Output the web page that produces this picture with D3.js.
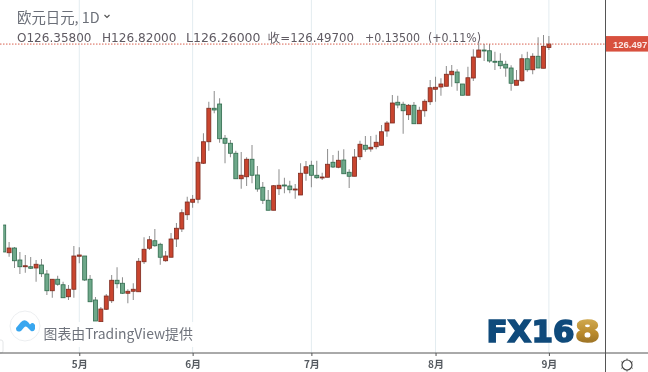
<!DOCTYPE html>
<html>
<head>
<meta charset="utf-8">
<script src="https://cdn.jsdelivr.net/npm/d3@7"></script>
<style>
  html, body { margin: 0; padding: 0; background: #fff; overflow: hidden; }
  svg { display: block; }
  text { font-family: "DejaVu Sans", sans-serif; }
  .plot { filter: blur(0.35px); }
</style>
</head>
<body>
<svg id="chart" width="648" height="372"></svg>
<script>
const open = [119.26,118.15,118.34,117.86,117.61,117.59,117.54,117.66,117.30,116.63,117.09,116.87,116.39,116.69,118.01,118.02,117.09,116.26,115.39,115.89,116.23,117.05,116.93,116.53,116.61,116.59,117.79,118.33,118.63,118.49,117.83,117.97,118.70,119.10,119.67,120.17,120.29,121.73,122.59,123.93,124.10,122.73,122.53,122.13,121.11,121.19,121.89,121.26,120.77,120.25,119.85,120.71,120.86,120.82,120.67,120.46,121.33,121.65,121.25,121.14,121.17,121.77,121.57,121.86,121.37,121.21,121.99,122.45,122.30,122.39,122.45,123.02,123.34,124.17,124.09,123.67,124.05,123.31,123.83,124.19,124.69,124.78,124.81,125.27,125.38,124.90,124.45,125.14,125.97,126.26,126.23,125.81,125.81,125.69,125.54,124.85,125.03,125.91,125.47,126.01,125.53,126.358];
const high = [119.26,118.58,118.38,118.18,118.06,117.98,117.86,117.90,117.46,117.10,117.23,116.99,116.86,118.42,118.37,118.02,117.26,116.38,115.98,116.50,117.26,117.57,117.17,116.69,116.93,117.94,118.77,118.82,119.10,118.55,118.22,118.94,119.34,119.89,120.39,120.46,121.99,122.93,124.19,124.62,124.33,122.86,122.66,122.23,122.18,121.97,122.46,121.62,120.98,120.66,120.86,121.49,121.15,121.03,120.90,121.73,121.82,121.83,121.83,121.35,122.30,122.06,122.23,122.29,121.49,122.30,122.63,122.82,122.82,122.87,123.26,123.42,124.46,124.43,124.19,124.10,124.18,123.99,124.29,125.06,125.19,125.13,125.62,125.66,125.49,124.90,125.59,126.29,126.55,126.50,126.50,126.19,126.13,125.83,125.65,125.46,126.09,126.19,126.13,126.77,126.86,126.82];
const low = [118.18,117.99,117.54,117.30,117.35,117.50,116.99,117.18,116.46,116.35,116.83,116.34,116.26,116.35,117.73,117.02,116.19,115.42,115.39,115.86,116.14,116.73,116.50,116.13,116.26,116.59,117.70,118.26,118.39,117.67,117.79,117.97,118.38,118.98,119.46,119.95,120.13,121.70,122.23,123.73,122.55,121.73,121.97,121.11,120.71,120.82,120.93,120.59,120.10,119.85,119.85,120.46,120.53,120.53,120.31,120.46,121.03,120.77,121.11,121.06,121.17,121.54,121.53,121.31,120.74,121.21,121.86,122.19,122.19,122.29,122.45,122.79,123.34,123.93,122.91,123.46,123.31,123.31,123.59,124.06,124.19,124.43,124.81,124.79,124.63,124.45,124.45,125.02,125.97,125.82,125.75,125.46,125.50,125.19,124.63,124.85,124.99,125.39,125.29,125.54,125.53,126.26];
const close = [118.18,118.34,117.83,117.59,117.63,117.53,117.69,117.31,116.63,117.09,116.89,116.35,116.69,118.02,118.06,117.06,116.19,115.42,115.90,116.42,117.05,116.91,116.53,116.61,116.69,117.81,118.29,118.67,118.43,117.97,118.02,118.70,119.13,119.75,120.18,120.29,121.77,122.59,123.93,123.86,122.71,122.53,122.13,121.11,121.25,121.89,121.25,120.70,120.25,119.85,120.83,120.85,120.82,120.67,120.70,121.33,121.59,121.25,121.15,121.18,121.69,121.58,121.85,121.31,121.21,121.98,122.49,122.29,122.37,122.57,122.99,123.34,124.14,124.06,123.83,124.05,123.31,123.85,124.21,124.75,124.77,124.90,125.29,125.41,124.95,124.45,125.15,125.98,126.26,126.22,125.82,125.79,125.63,125.54,124.93,125.05,125.91,125.47,126.01,125.54,126.41,126.497];
const monthIndex = [14, 35, 57, 80, 101];
const monthLabels = ['5月', '6月', '7月', '8月', '9月'];
const lastPrice = 126.497;
const ohlcText = ['O126.35800', 'H126.82000', 'L126.26000', '收=126.49700', '+0.13500', '(+0.11%)'];

const svg = d3.select('#chart');
const x = d3.scaleLinear().domain([0, open.length - 1]).range([3.7, 548.9]);
const y = d3.scaleLinear().domain([128.26, 115.26]).range([0, 325]);
const upColor = '#c9452f', upBorder = '#7d2a1e';
const downColor = '#6ea88a', downBorder = '#2f6a4c';

const defs = svg.append('defs');
// the first candle is cut by the left side of the pane
defs.append('clipPath').attr('id', 'pane')
    .append('rect').attr('x', 3.2).attr('y', 0).attr('width', 602).attr('height', 353);

const plot = svg.append('g').attr('class', 'plot');

// month gridlines
plot.selectAll('.grid')
    .data(monthIndex)
    .enter()
    .append('line')
    .attr('class', 'grid')
    .attr('x1', d => x(d)).attr('x2', d => x(d))
    .attr('y1', 0).attr('y2', 353)
    .attr('stroke', '#e3ecf0')
    .attr('stroke-width', 1);

// wicks then bodies
const candles = plot.append('g')
    .attr('clip-path', 'url(#pane)')
    .selectAll('.candle')
    .data(d3.range(open.length))
    .enter()
    .append('g')
    .attr('class', 'candle');

candles.append('line')
    .attr('x1', i => x(i)).attr('x2', i => x(i))
    .attr('y1', i => y(high[i])).attr('y2', i => y(low[i]))
    .attr('stroke', '#8c8c8c')
    .attr('stroke-width', 1);

candles.append('rect')
    .attr('x', i => x(i) - 2)
    .attr('width', 4)
    .attr('y', i => y(Math.max(open[i], close[i])))
    .attr('height', i => Math.max(1, Math.abs(y(open[i]) - y(close[i]))))
    .attr('fill', i => close[i] >= open[i] ? upColor : downColor)
    .attr('stroke', i => close[i] >= open[i] ? upBorder : downBorder)
    .attr('stroke-width', 0.8);

// last price line
plot.append('line')
    .attr('x1', 0).attr('x2', 605)
    .attr('y1', y(lastPrice)).attr('y2', y(lastPrice))
    .attr('stroke', '#d9604f')
    .attr('stroke-width', 1)
    .attr('stroke-dasharray', '1.5 1.5');

// TradingView badge, covers the candles under it
const badge = svg.append('g');
badge.append('rect')
    .attr('x', 44).attr('y', 322).attr('width', 152).attr('height', 25)
    .attr('fill', '#fff').attr('opacity', 0.9);
badge.append('circle')
    .attr('cx', 25).attr('cy', 326).attr('r', 15)
    .attr('fill', '#fff').attr('stroke', '#eceef0');
badge.append('path')
    .attr('d', 'M16 328 L21 322 Q24.5 318.5 28 322 L30 324.5 Q33 321.5 35 325 L35 329 Q34 332 31 331 L27 327 Q25.5 326 24 327.5 L21 331 Q16 333 16 328 Z')
    .attr('fill', '#38a6ef');
badge.append('text')
    .attr('x', 43.5).attr('y', 339)
    .attr('font-size', 13.9)
    .attr('fill', '#6f737c')
    .style('font-family', '"Noto Sans CJK SC", sans-serif')
    .text('图表由TradingView提供');

// small box on the left edge
svg.append('rect')
    .attr('x', -4).attr('y', 340).attr('width', 7).attr('height', 13).attr('rx', 2)
    .attr('fill', '#fff').attr('stroke', '#e4e6e8');

// axes
const xAxis = d3.axisBottom(x)
    .tickValues(monthIndex)
    .tickFormat((d, i) => monthLabels[i])
    .tickSize(3);
const axisG = svg.append('g')
    .attr('transform', 'translate(0,353)')
    .call(xAxis);
axisG.select('.domain').remove();
axisG.selectAll('line').attr('stroke', '#555');
axisG.selectAll('text')
    .attr('y', 8)
    .attr('font-size', 10)
    .attr('font-weight', 'bold')
    .attr('fill', '#555a60')
    .style('font-family', '"Noto Sans CJK SC", sans-serif');

svg.append('line')
    .attr('x1', 0).attr('x2', 648).attr('y1', 353).attr('y2', 353)
    .attr('stroke', '#555').attr('stroke-width', 1);
svg.append('line')
    .attr('x1', 605.5).attr('x2', 605.5).attr('y1', 0).attr('y2', 372)
    .attr('stroke', '#555').attr('stroke-width', 1);

// price label
svg.append('rect')
    .attr('x', 606).attr('y', y(lastPrice) - 8).attr('width', 42).attr('height', 15.5)
    .attr('fill', '#d8503e');
svg.append('text')
    .attr('x', 613).attr('y', y(lastPrice) + 3.5)
    .attr('font-size', 9.5)
    .attr('font-weight', 'bold')
    .attr('fill', '#fbe9e6')
    .style('font-family', '"Liberation Sans", sans-serif')
    .text(lastPrice.toFixed(3));

// header text
svg.append('text')
    .attr('x', 17).attr('y', 23)
    .attr('font-size', 14.4)
    .attr('fill', '#6b6f78')
    .style('font-family', '"Noto Sans CJK SC", sans-serif')
    .text('欧元日元, 1D');
svg.append('path')
    .attr('d', 'M104.5 15 L107 17.5 L109.5 15')
    .attr('fill', 'none').attr('stroke', '#555').attr('stroke-width', 1.2);

const ohlcX = [17, 102, 186, 268, 365, 428];
const ohlcW = [74.5, 74.5, 74.5, 86, 55, 53];
svg.selectAll('.ohlc')
    .data(ohlcText)
    .enter()
    .append('text')
    .attr('class', 'ohlc')
    .attr('x', (d, i) => ohlcX[i])
    .attr('y', 41.5)
    .attr('font-size', 12.5)
    .attr('textLength', (d, i) => ohlcW[i])
    .attr('lengthAdjust', 'spacingAndGlyphs')
    .attr('fill', '#5f5a62')
    .text(d => d);

// FX168 logo
const grad = defs.append('linearGradient')
    .attr('id', 'gold').attr('x1', 0).attr('x2', 0).attr('y1', 0).attr('y2', 1);
grad.append('stop').attr('offset', '0%').attr('stop-color', '#d8b45c');
grad.append('stop').attr('offset', '55%').attr('stop-color', '#b98a2c');
grad.append('stop').attr('offset', '100%').attr('stop-color', '#8a6420');
svg.append('text')
    .attr('x', 486.5).attr('y', 342)
    .attr('font-size', 30)
    .attr('font-weight', 'bold')
    .attr('textLength', 88)
    .attr('lengthAdjust', 'spacingAndGlyphs')
    .attr('fill', '#0f4a7b')
    .attr('stroke', '#0f4a7b')
    .attr('stroke-width', 1.6)
    .text('FX16');
svg.append('text')
    .attr('x', 575).attr('y', 342)
    .attr('font-size', 30)
    .attr('font-weight', 'bold')
    .attr('textLength', 25)
    .attr('lengthAdjust', 'spacingAndGlyphs')
    .attr('fill', 'url(#gold)')
    .attr('stroke', 'url(#gold)')
    .attr('stroke-width', 1.6)
    .text('8');

// settings gear
const gear = svg.append('g').attr('transform', 'translate(627,365)');
gear.append('circle').attr('r', 5).attr('fill', 'none').attr('stroke', '#444').attr('stroke-width', 1.2);
gear.selectAll('line')
    .data(d3.range(6))
    .enter()
    .append('line')
    .attr('x1', d => 5 * Math.cos(d * Math.PI / 3 + Math.PI / 6))
    .attr('y1', d => 5 * Math.sin(d * Math.PI / 3 + Math.PI / 6))
    .attr('x2', d => 6.5 * Math.cos(d * Math.PI / 3 + Math.PI / 6))
    .attr('y2', d => 6.5 * Math.sin(d * Math.PI / 3 + Math.PI / 6))
    .attr('stroke', '#444');
</script>
</body>
</html>
